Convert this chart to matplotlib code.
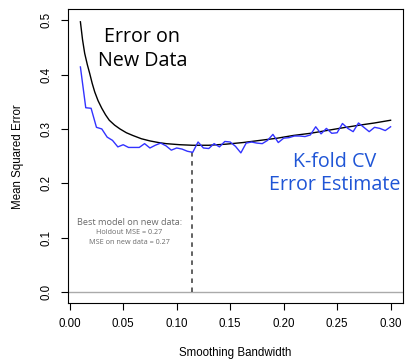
import numpy as np
import matplotlib
matplotlib.use("Agg")
import matplotlib.pyplot as plt

# K-fold CV error estimate (blue, noisy), bandwidths 0.010 .. 0.300
cv_bw = np.arange(59) * 0.005 + 0.01
cv_err = [0.414, 0.339, 0.338, 0.303, 0.300, 0.285, 0.279, 0.267, 0.271, 0.266,
          0.266, 0.266, 0.273, 0.265, 0.270, 0.274, 0.269, 0.261, 0.265, 0.263,
          0.259, 0.257, 0.276, 0.265, 0.264, 0.273, 0.267, 0.277, 0.276, 0.268,
          0.256, 0.274, 0.276, 0.274, 0.273, 0.279, 0.290, 0.275, 0.283, 0.284,
          0.287, 0.287, 0.286, 0.289, 0.304, 0.291, 0.301, 0.292, 0.293, 0.310,
          0.301, 0.295, 0.311, 0.303, 0.295, 0.303, 0.301, 0.297, 0.304]

# error on new data (black, smooth)
new_bw = [0.010, 0.012, 0.014, 0.0165, 0.0187, 0.021, 0.0234, 0.0265, 0.030, 0.0335,
          0.037, 0.042, 0.047, 0.053, 0.059, 0.067, 0.075, 0.083, 0.090, 0.103,
          0.115, 0.130, 0.146, 0.162, 0.178, 0.194, 0.209, 0.225, 0.240, 0.255,
          0.271, 0.285, 0.300]
new_err = [0.497, 0.464, 0.439, 0.418, 0.402, 0.384, 0.368, 0.352, 0.338, 0.326,
           0.316, 0.307, 0.300, 0.293, 0.288, 0.282, 0.278, 0.275, 0.273, 0.271,
           0.270, 0.270, 0.272, 0.275, 0.279, 0.283, 0.288, 0.292, 0.297, 0.302,
           0.307, 0.311, 0.316]

best_bw = 0.1146
best_cv = 0.257

fig = plt.figure(figsize=(4.2, 3.63), dpi=100)
ax = fig.add_axes([0.1619, 0.1653, 0.9595 - 0.1619, 0.9744 - 0.1653])

ax.axhline(0, color="#aaaaaa", lw=1)
ax.plot([best_bw, best_bw], [0, best_cv], color="#555555", lw=1.3, ls=(0, (2.5, 2.5)))
ax.plot(new_bw, new_err, color="black", lw=1)
ax.plot(cv_bw, cv_err, color="#3333ff", lw=1)

ax.set_xlim(-0.0016, 0.3116)
ax.set_ylim(-0.02, 0.52)
ax.set_xticks(np.arange(0, 0.31, 0.05))
ax.set_xticklabels(["0.00", "0.05", "0.10", "0.15", "0.20", "0.25", "0.30"])
ax.set_yticks(np.arange(0, 0.51, 0.1))
ax.set_yticklabels(["0.0", "0.1", "0.2", "0.3", "0.4", "0.5"], rotation=90, va="center")

tickfont = {"family": "Liberation Sans", "size": 8.3}
for lab in ax.get_xticklabels() + ax.get_yticklabels():
    lab.set_fontfamily("Liberation Sans")
    lab.set_fontsize(8.3)
ax.tick_params(direction="out", length=5, width=0.8, pad=6)
ax.set_xlabel("Smoothing Bandwidth", fontdict=tickfont, labelpad=12)
ax.set_ylabel("Mean Squared Error", fontdict=tickfont, labelpad=12)
for s in ax.spines.values():
    s.set_linewidth(0.8)

lbl = {"family": "Open Sans", "ha": "center", "va": "center"}
ax.text(0.068, 0.447, "Error on\nNew Data", fontsize=14.2, linespacing=1.22, **lbl)
ax.text(0.2477, 0.218, "K-fold CV\nError Estimate", fontsize=14.2, color="#1f55d6",
        linespacing=1.18, **lbl)
ax.text(0.0556, 0.128, "Best model on new data:", fontsize=6.6, color="#6a6a6a", **lbl)
ax.text(0.0556, 0.110, "Holdout MSE = 0.27", fontsize=5.2, color="#6a6a6a", **lbl)
ax.text(0.0556, 0.092, "MSE on new data = 0.27", fontsize=5.2, color="#6a6a6a", **lbl)

fig.savefig("out.png", dpi=100)
